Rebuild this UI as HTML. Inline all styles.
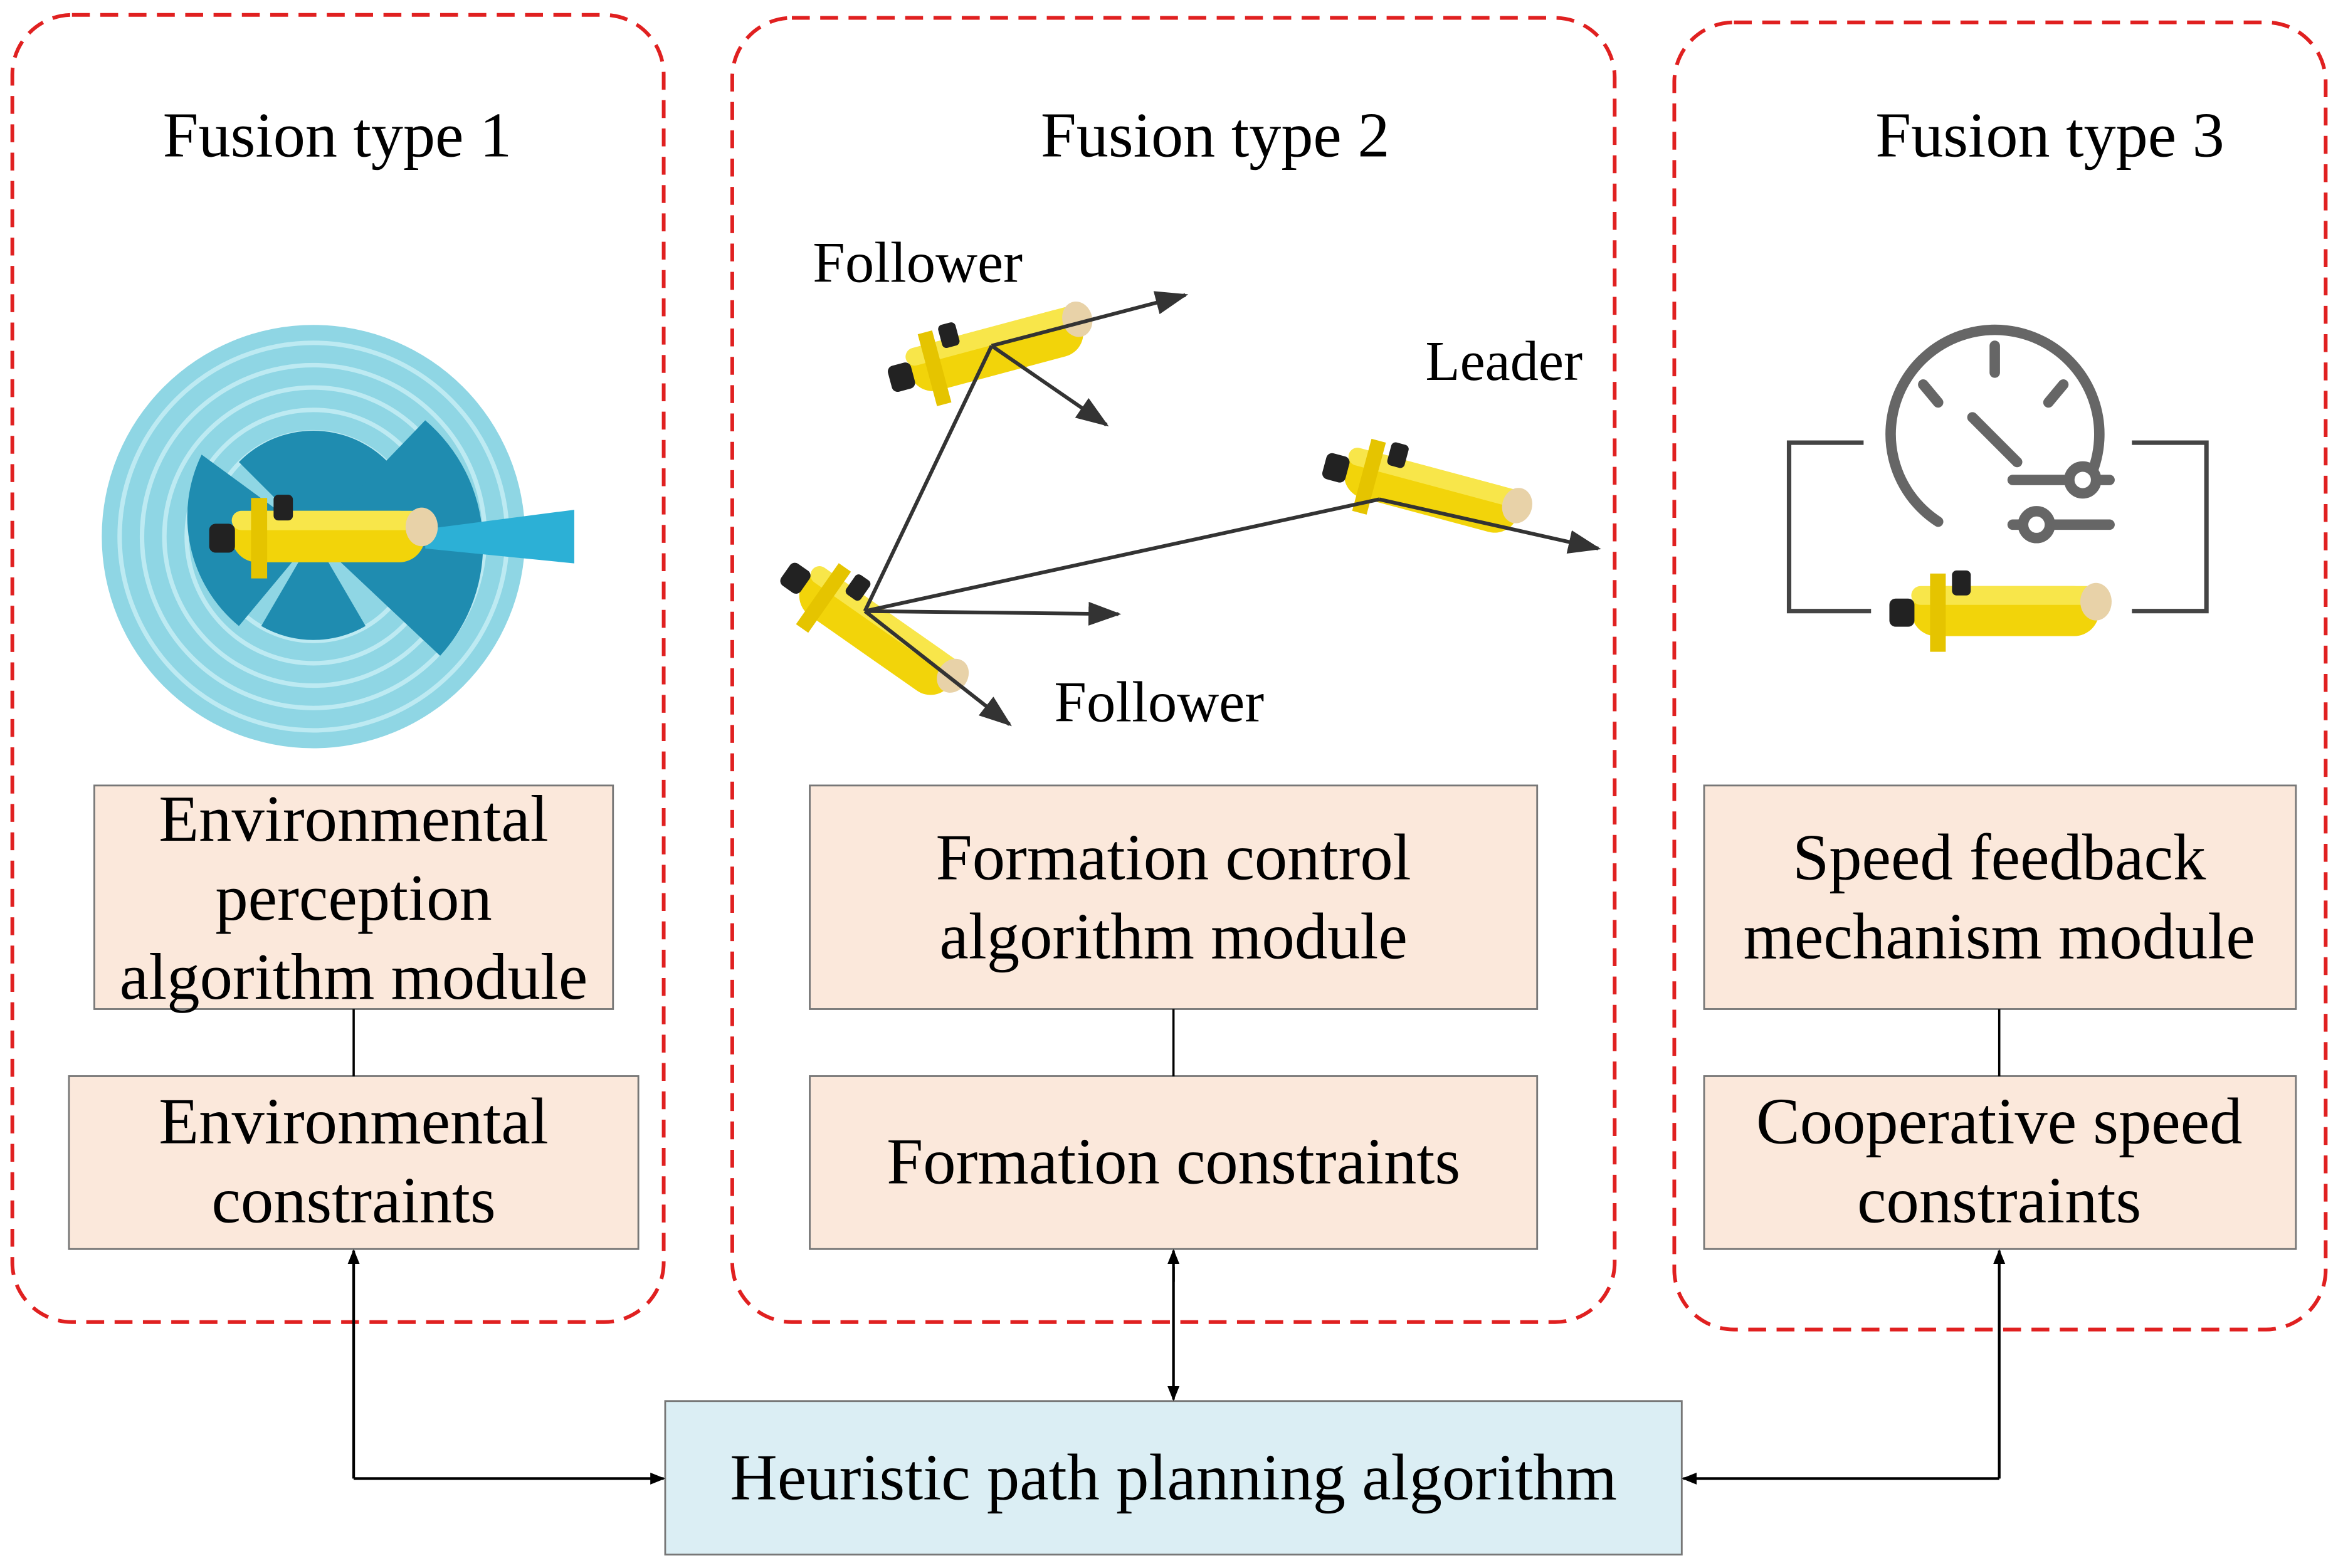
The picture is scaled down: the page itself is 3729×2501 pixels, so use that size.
<!DOCTYPE html>
<html><head><meta charset="utf-8"><style>
html,body{margin:0;padding:0;background:#fff;}
svg{display:block;}
text{font-family:"Liberation Serif",serif;fill:#000;}
</style></head><body>
<svg width="3729" height="2501" viewBox="0 0 1568 1052" xmlns="http://www.w3.org/2000/svg">
<defs>
<marker id="ah" markerWidth="10" markerHeight="10" refX="9" refY="5" orient="auto" markerUnits="userSpaceOnUse">
<path d="M0,1 L10,5 L0,9 z" fill="#000"/></marker>
<marker id="ag" markerWidth="22" markerHeight="16" refX="20" refY="8" orient="auto" markerUnits="userSpaceOnUse">
<path d="M0,0 L22,8 L0,16 z" fill="#333"/></marker>
<g id="sub">
<rect x="-60" y="-16" width="120" height="32" rx="16" fill="#f2d40a"/>
<rect x="-60" y="-16" width="120" height="12" rx="6" fill="#f8e64a"/>
<ellipse cx="58" cy="-6" rx="10" ry="12" fill="#e8d2a8"/>
<rect x="-48" y="-24" width="10" height="50" fill="#e5c400"/>
<rect x="-74" y="-8" width="16" height="18" rx="4" fill="#222"/>
<rect x="-34" y="-26" width="12" height="16" rx="3" fill="#222"/>
</g>
</defs>

<g fill="none" stroke="#e02020" stroke-width="2.5" stroke-dasharray="12,7">
<rect x="8" y="10" width="437" height="877" rx="40"/>
<rect x="491" y="12" width="592" height="875" rx="40"/>
<rect x="1123" y="15" width="437" height="877" rx="40"/>
</g>

<g font-size="43" text-anchor="middle">
<text x="226" y="105">Fusion type 1</text>
<text x="815" y="105">Fusion type 2</text>
<text x="1375" y="105">Fusion type 3</text>
</g>

<circle cx="210" cy="360" r="142" fill="#8fd6e4"/>
<g fill="none" stroke="#bdeaf2" stroke-width="3">
<circle cx="210" cy="360" r="130"/><circle cx="210" cy="360" r="115"/><circle cx="210" cy="360" r="100"/><circle cx="210" cy="360" r="85"/><circle cx="210" cy="360" r="70"/>
</g>
<path d="M210,360 L135,305 A95,95 0 0 0 160,420 z" fill="#1f8cb0"/>
<path d="M210,360 L160,310 A70,70 0 0 1 260,310 z" fill="#1f8cb0"/>
<path d="M210,360 L285,282 A110,110 0 0 1 295,440 z" fill="#1f8cb0"/>
<path d="M210,360 L175,420 A70,70 0 0 0 245,420 z" fill="#1f8cb0"/>
<path d="M285,355 L385,342 L385,378 L285,368 z" fill="#2cb0d6"/>
<use href="#sub" transform="translate(220,360) scale(1.08)"/>

<use href="#sub" transform="translate(668,235) rotate(-15) scale(1.0)"/>
<use href="#sub" transform="translate(960,330) rotate(15) scale(1.0)"/>
<use href="#sub" transform="translate(588,425) rotate(35) scale(1.0)"/>
<g stroke="#333" stroke-width="2.5" fill="none">
<line x1="665" y1="232" x2="795" y2="198" marker-end="url(#ag)"/>
<line x1="665" y1="232" x2="742" y2="285" marker-end="url(#ag)"/>
<line x1="925" y1="335" x2="1072" y2="368" marker-end="url(#ag)"/>
<line x1="580" y1="410" x2="665" y2="232"/>
<line x1="580" y1="410" x2="925" y2="335"/>
<line x1="580" y1="410" x2="750" y2="412" marker-end="url(#ag)"/>
<line x1="580" y1="410" x2="677" y2="486" marker-end="url(#ag)"/>
</g>
<g font-size="39">
<text x="545" y="189">Follower</text>
<text x="956" y="255" font-size="38">Leader</text>
<text x="707" y="484">Follower</text>
</g>

<g fill="none" stroke="#666" stroke-width="7" stroke-linecap="round">
<path d="M1300,350 A70,70 0 1 1 1402,320"/>
<line x1="1338" y1="232" x2="1338" y2="250"/>
<line x1="1290" y1="258" x2="1300" y2="270"/>
<line x1="1384" y1="258" x2="1374" y2="270"/>
<line x1="1323" y1="280" x2="1353" y2="310"/>
<line x1="1350" y1="322" x2="1415" y2="322"/>
<line x1="1350" y1="352" x2="1415" y2="352"/>
<circle cx="1397" cy="322" r="9" fill="#fff"/>
<circle cx="1366" cy="352" r="9" fill="#fff"/>
</g>
<g fill="none" stroke="#444" stroke-width="3">
<polyline points="1250,297 1200,297 1200,410 1255,410"/>
<polyline points="1430,297 1480,297 1480,410 1430,410"/>
</g>
<use href="#sub" transform="translate(1345,410) scale(1.05)"/>

<g fill="#fbe8db" stroke="#777" stroke-width="1.2">
<rect x="63" y="527" width="348" height="150"/>
<rect x="46" y="722" width="382" height="116"/>
<rect x="543" y="527" width="488" height="150"/>
<rect x="543" y="722" width="488" height="116"/>
<rect x="1143" y="527" width="397" height="150"/>
<rect x="1143" y="722" width="397" height="116"/>
</g>
<rect x="446" y="940" width="682" height="103" fill="#dbeef4" stroke="#777" stroke-width="1.2"/>
<g stroke="#000" stroke-width="1.5">
<line x1="237" y1="677" x2="237" y2="722"/>
<line x1="787" y1="677" x2="787" y2="722"/>
<line x1="1341" y1="677" x2="1341" y2="722"/>
</g>
<g font-size="44" text-anchor="middle">
<text x="237" y="564">Environmental</text>
<text x="237" y="617">perception</text>
<text x="237" y="670">algorithm module</text>
<text x="237" y="767">Environmental</text>
<text x="237" y="820">constraints</text>
<text x="787" y="590">Formation control</text>
<text x="787" y="643">algorithm module</text>
<text x="787" y="794">Formation constraints</text>
<text x="1341" y="590">Speed feedback</text>
<text x="1341" y="643">mechanism module</text>
<text x="1341" y="767">Cooperative speed</text>
<text x="1341" y="820">constraints</text>
<text x="787" y="1006">Heuristic path planning algorithm</text>
</g>

<g fill="none" stroke="#000" stroke-width="1.8">
<polyline points="237,992 237,839" marker-end="url(#ah)"/>
<polyline points="237,992 445,992" marker-end="url(#ah)"/>
<line x1="787" y1="860" x2="787" y2="839" marker-end="url(#ah)"/>
<line x1="787" y1="850" x2="787" y2="939" marker-end="url(#ah)"/>
<polyline points="1341,992 1341,839" marker-end="url(#ah)"/>
<polyline points="1341,992 1129,992" marker-end="url(#ah)"/>
</g>
</svg>
</body></html>
